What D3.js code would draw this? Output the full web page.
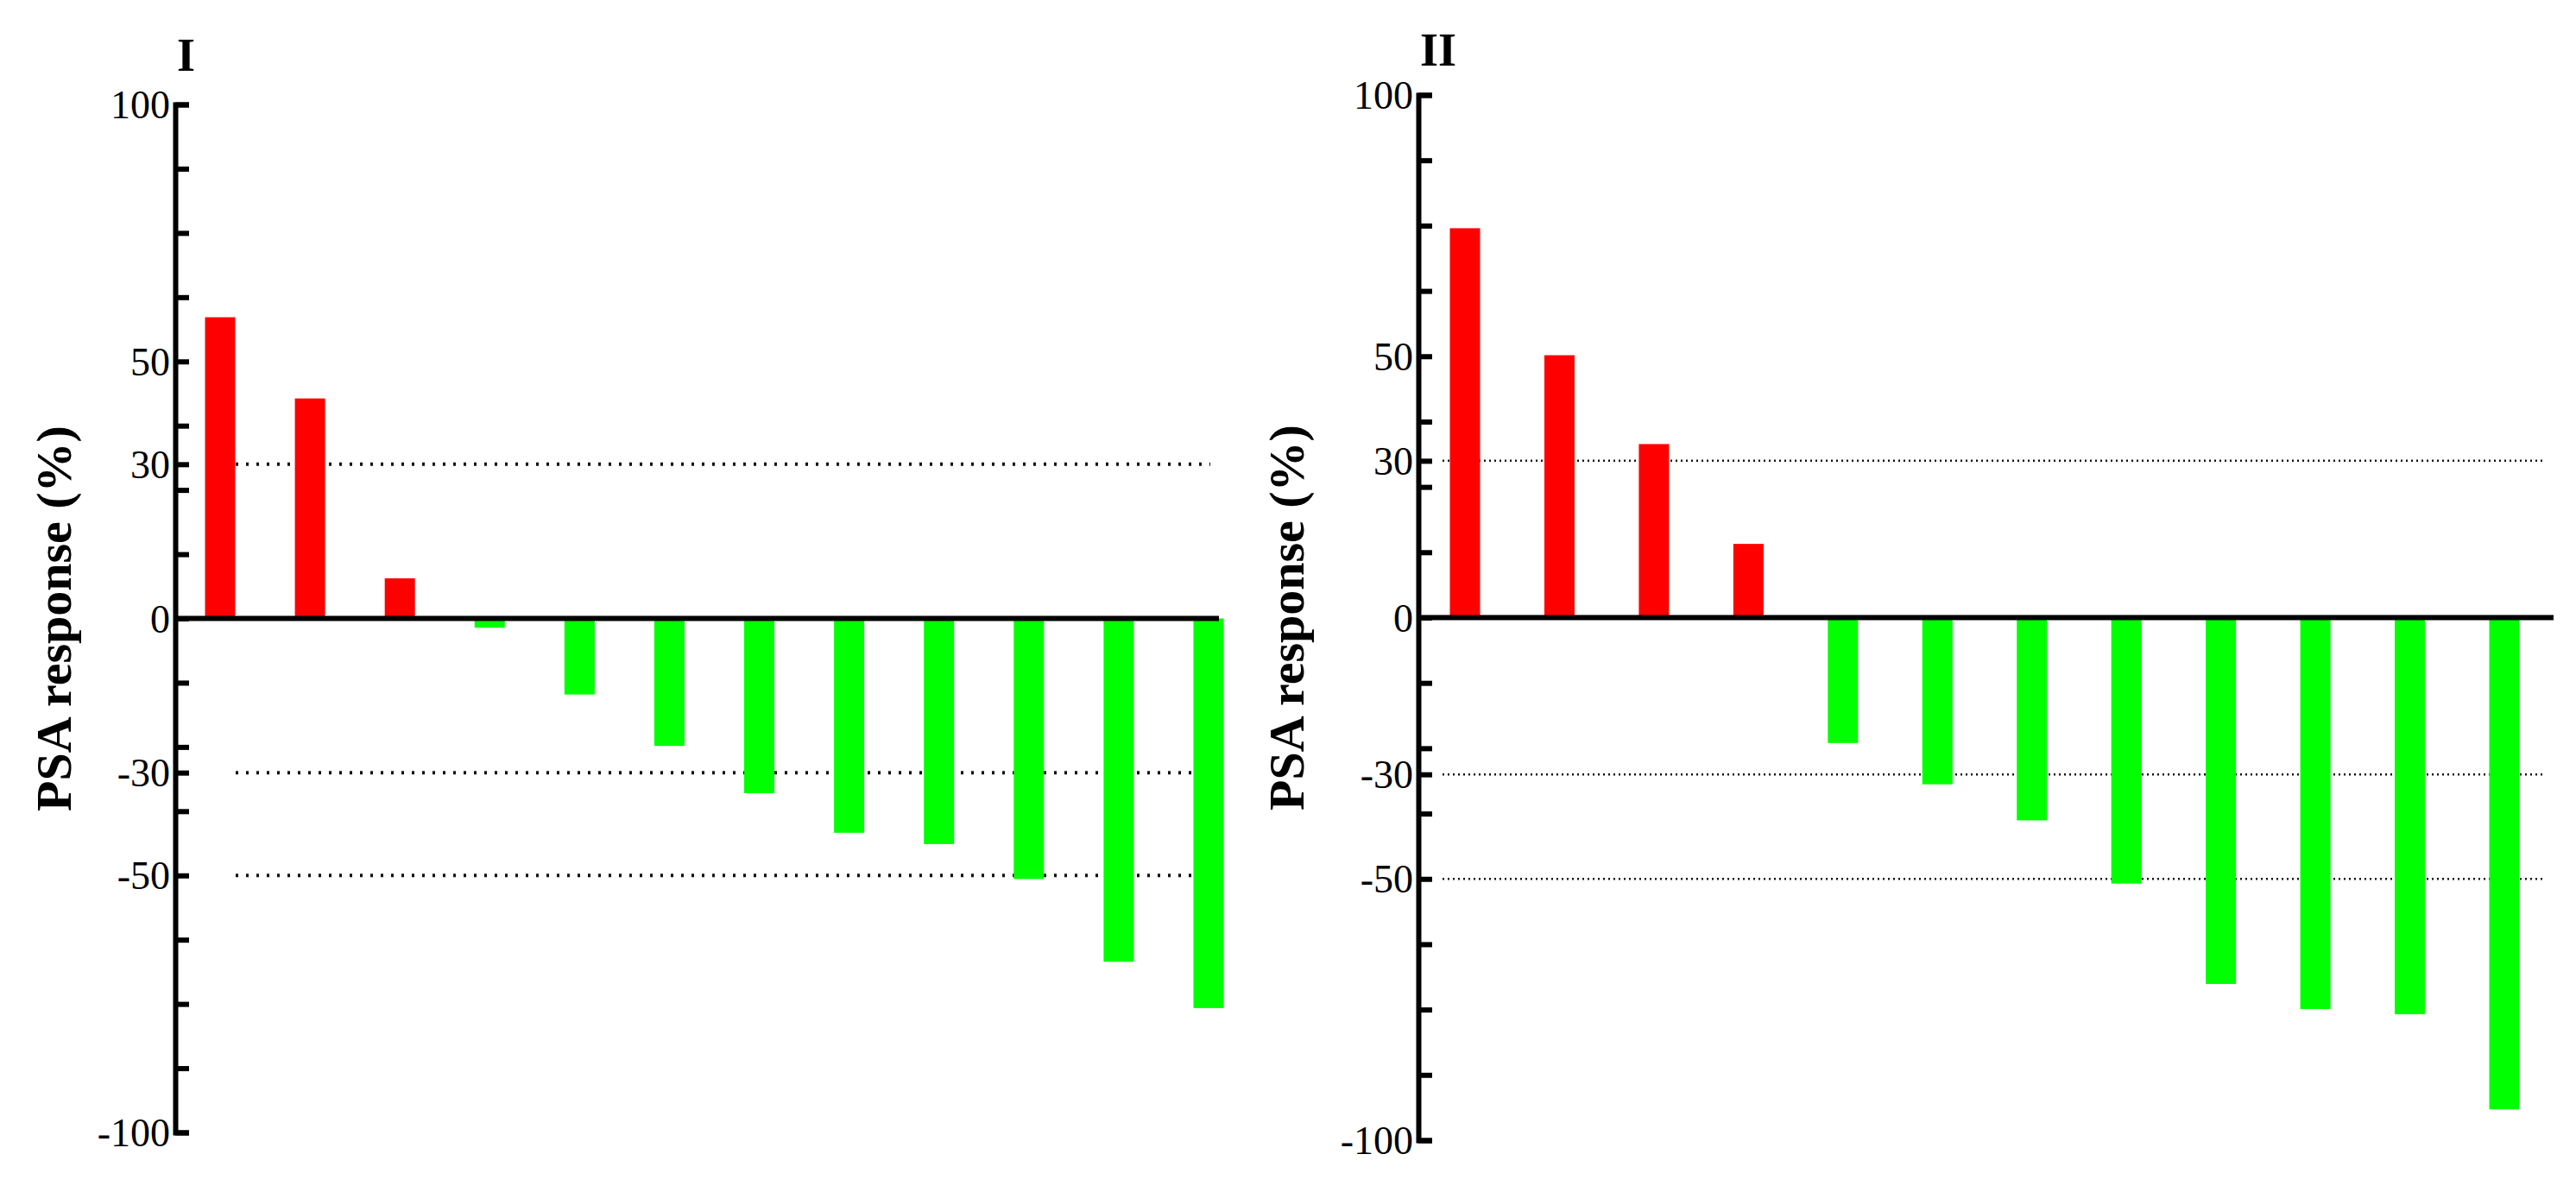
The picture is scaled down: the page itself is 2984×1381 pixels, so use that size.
<!DOCTYPE html>
<html>
<head>
<meta charset="utf-8">
<script src="https://cdn.jsdelivr.net/npm/d3@7"></script>
<style>
  body { margin: 0; background: #fff; }
  text { font-family: "Liberation Serif", "DejaVu Serif", serif; }
</style>
</head>
<body>
<script>
// values
var patientsI = d3.range(1, 13);
var responseI = [58.6, 42.8, 7.8, -1.8, -14.8, -24.8, -34, -41.7, -43.9, -50.7, -66.8, -75.8];
var patientsII = d3.range(1, 13);
var responseII = [74.5, 50.2, 33.2, 14.1, -24, -31.9, -38.8, -50.9, -70.1, -74.9, -75.9, -94.1];
var tickLabels = [100, 50, 30, 0, -30, -50, -100];
var refLinesI = [30, -30, -50];
var refLinesII = [30, -30, -50];

var svg = d3.select("body").append("svg")
  .attr("width", 2984).attr("height", 1381);

function panel(opt) {
  var g = svg.append("g");
  var y = d3.scaleLinear().domain([-100, 100]).range([opt.yBottom, opt.yTop]);
  var x = d3.scalePoint().domain(opt.cats).range([opt.firstX, opt.lastX]);
  var bw = 35;

  // dotted reference lines
  g.selectAll("line.ref").data(opt.refs).enter().append("line")
    .attr("x1", opt.refX0).attr("x2", opt.refX1)
    .attr("y1", function(d) { return y(d); }).attr("y2", function(d) { return y(d); })
    .attr("stroke", "#111").attr("stroke-width", opt.refW)
    .attr("stroke-dasharray", opt.dash);

  // bars
  g.selectAll("rect").data(opt.vals).enter().append("rect")
    .attr("x", function(d, i) { return x(opt.cats[i]) - bw / 2; })
    .attr("y", function(d) { return y(Math.max(0, d)); })
    .attr("width", bw)
    .attr("height", function(d) { return Math.abs(y(d) - y(0)); })
    .attr("fill", function(d) { return d > 0 ? "#ff0000" : "#00ff00"; });

  // zero line
  g.append("line")
    .attr("x1", opt.axisX).attr("x2", opt.zeroEnd)
    .attr("y1", y(0)).attr("y2", y(0))
    .attr("stroke", "#000").attr("stroke-width", 6);

  // y axis, ticks pointing inwards
  var axis = d3.axisRight(y)
    .tickValues(d3.range(-100, 100.1, 12.5).concat([30, -30]))
    .tickSize(16).tickFormat("");
  var ax = g.append("g").attr("transform", "translate(" + opt.axisX + ",0)").call(axis);
  ax.select(".domain").attr("stroke-width", 6);
  ax.selectAll(".tick line").attr("stroke-width", 6);

  g.selectAll("text.tl").data(tickLabels).enter().append("text")
    .attr("x", opt.axisX - 6).attr("y", function(d) { return y(d); })
    .attr("dy", "0.35em").attr("text-anchor", "end")
    .attr("font-size", 46).text(function(d) { return d; });

  g.append("text")
    .attr("transform", "translate(" + opt.labelX + "," + (opt.yTop + opt.yBottom) / 2 + ") rotate(-90)")
    .attr("text-anchor", "middle").attr("font-size", 58).attr("font-weight", "bold")
    .text("PSA response (%)");

  g.append("text").attr("x", opt.axisX + 2).attr("y", opt.titleY)
    .attr("font-size", 54).attr("font-weight", "bold").text(opt.title);
}

panel({ title: "I", cats: patientsI, vals: responseI, refs: refLinesI,
  axisX: 203, yTop: 121, yBottom: 1312, titleY: 82, firstX: 255, lastX: 1400, zeroEnd: 1412,
  refX0: 273, refX1: 1402, refW: 4, dash: "3,9", labelX: 82 });
panel({ title: "II", cats: patientsII, vals: responseII, refs: refLinesII,
  axisX: 1643, yTop: 110, yBottom: 1321, titleY: 76, firstX: 1697, lastX: 2901, zeroEnd: 2958,
  refX0: 1671, refX1: 2947, refW: 2.5, dash: "2,4", labelX: 1510 });
</script>
</body>
</html>
